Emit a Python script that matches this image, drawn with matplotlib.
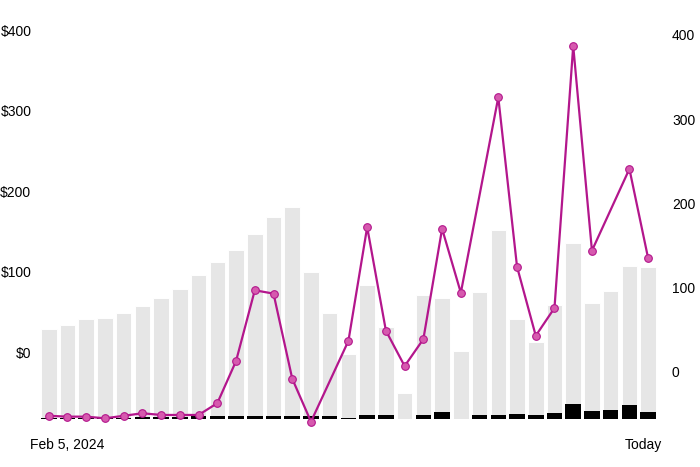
import matplotlib
matplotlib.use('Agg')
import matplotlib.pyplot as plt
import numpy as np

plt.rcParams['font.family'] = ['Liberation Sans', 'DejaVu Sans']

# ---- data ----
total_bars = [112, 117, 124, 125, 132, 140, 150, 161, 179, 195, 210, 230, 251, 263,
              183, 132, 81, 166, 114, 32, 154, 150, 84, 158, 235, 124, 96, 142, 219,
              144, 159, 190, 189]
black_bars = [1.2, 1.2, 1.2, 1.2, 1.2, 1.9, 1.9, 1.9, 3.7, 3.7, 3.7, 3.7, 3.7, 3.7,
              3.7, 3.7, 1.2, 5, 5, 0, 5, 8.7, 0, 5, 5, 6.2, 5, 7.5, 18.6, 10, 11.2,
              17.4, 8.7]
line_values = [-52, -53, -53, -55, -52, -49, -51, -51, -51, -37, 13, 97, 93, -8, -59,
               np.nan, 37, 172, 49, 7, 39, 170, 94, np.nan, 326, 125, 43, 76, 387, 144,
               np.nan, 241, 135]
left_ticks = [0, 100, 200, 300, 400]
left_labels = ['$0', '$100', '$200', '$300', '$400']
right_ticks = [0, 100, 200, 300, 400]
right_labels = ['0', '100', '200', '300', '400']
start_label = 'Feb 5, 2024'
end_label = 'Today'

# ---- figure ----
W, H = 700, 467
fig = plt.figure(figsize=(W / 100, H / 100), dpi=100)
ax_left_px, ax_right_px = 35, 662
ax_top_px, ax_bot_px = 0, 419
pos = [ax_left_px / W, (H - ax_bot_px) / H,
       (ax_right_px - ax_left_px) / W, (ax_bot_px - ax_top_px) / H]

ax_bar = fig.add_axes(pos)
ax_l = fig.add_axes(pos)
ax_r = fig.add_axes(pos)
for a in (ax_l, ax_r):
    a.patch.set_visible(False)

x = np.arange(len(total_bars))
total = np.array(total_bars, dtype=float)
black = np.array(black_bars, dtype=float)
xlim = (-0.734, 32.74)

gray = '#e6e6e6'
ax_bar.bar(x, black, width=0.83, color='black', linewidth=0, zorder=2)
ax_bar.bar(x, total - black, bottom=black, width=0.83, color=gray,
           edgecolor='white', linewidth=0.7, zorder=1)
ax_bar.set_xlim(*xlim)
ax_bar.set_ylim(0, 520.5)
ax_bar.axis('off')

# left axis
ax_l.set_xlim(*xlim)
ax_l.set_ylim(-83.2, 437.3)
ax_l.set_yticks(left_ticks)
ax_l.set_yticklabels(left_labels)
ax_l.set_xticks([])
ax_l.tick_params(axis='y', length=0, pad=2.6, labelsize=10, colors='black')
for s in ax_l.spines.values():
    s.set_visible(False)

# right axis with line
lv = np.array(line_values, dtype=float)
m = ~np.isnan(lv)
ax_r.plot(x[m], lv[m], color='#b3168c', lw=1.6, marker='o', ms=5.5,
          mfc='#d65aae', mec='#b3168c', mew=0.8, clip_on=False, zorder=3)
ax_r.set_xlim(*xlim)
ax_r.set_ylim(-55.8, 441.5)
ax_r.yaxis.tick_right()
ax_r.set_yticks(right_ticks)
ax_r.set_yticklabels(right_labels)
ax_r.set_xticks([])
ax_r.tick_params(axis='y', length=0, pad=7.2, labelsize=10, colors='black')
for s in ax_r.spines.values():
    s.set_visible(False)

ax_r.text(-5 / 627, -26 / 419, start_label, transform=ax_r.transAxes,
          ha='left', va='center', fontsize=10, color='black')
ax_r.text(1.0, -26 / 419, end_label, transform=ax_r.transAxes,
          ha='right', va='center', fontsize=10, color='black')

fig.savefig('out.png', dpi=100)
